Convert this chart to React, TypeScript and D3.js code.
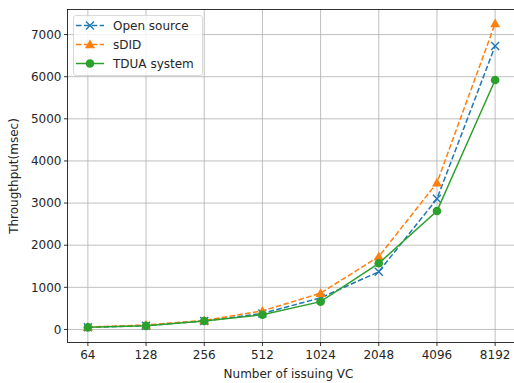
import React from "react";
import * as d3 from "d3";

const categories = ["64", "128", "256", "512", "1024", "2048", "4096", "8192"];
const openSource = [50, 90, 200, 380, 750, 1370, 3100, 6730];
const sDID = [60, 105, 215, 440, 860, 1730, 3480, 7260];
const tdua = [50, 85, 200, 350, 660, 1570, 2810, 5920];
const yTicks = [0, 1000, 2000, 3000, 4000, 5000, 6000, 7000];

const series = [
  { name: "Open source", values: openSource, color: "#1f77b4", dash: "5.5,2.4", marker: "x" },
  { name: "sDID", values: sDID, color: "#ff7f0e", dash: "5.5,2.4", marker: "^" },
  { name: "TDUA system", values: tdua, color: "#2ca02c", dash: "", marker: "o" },
];

const W = 514, H = 383;
const L = 67.5, R = 515.5, T = 9.5, B = 342.5;
const font = "DejaVu Sans, sans-serif";
const FS = 12;

function Marker({ type, x, y, color }: { type: string; x: number; y: number; color: string }) {
  if (type === "x") {
    const s = 4;
    return (
      <path d={`M${x - s},${y - s}L${x + s},${y + s}M${x - s},${y + s}L${x + s},${y - s}`} stroke={color} strokeWidth={1.4} fill="none" />
    );
  }
  if (type === "^") {
    const s = 5;
    return <path d={`M${x},${y - s}L${x + s},${y + s * 0.75}L${x - s},${y + s * 0.75}Z`} fill={color} />;
  }
  return <circle cx={x} cy={y} r={4.3} fill={color} />;
}

export default function App() {
  const x = d3.scaleLinear().domain([-0.35, 7.35]).range([L, R]);
  const y = d3.scaleLinear().domain([-310, 7595]).range([B, T]);
  const line = d3.line<number>().x((_, i) => x(i)).y((d) => y(d));

  return (
    <svg width={W} height={H} style={{ position: "absolute", left: 0, top: 0, background: "#fff" }} fontFamily={font}>
      <rect width={W} height={H} fill="#fff" />
      {categories.map((c, i) => (
        <line key={"gx" + c} x1={x(i)} x2={x(i)} y1={T} y2={B} stroke="#b0b0b0" strokeWidth={0.8} />
      ))}
      {yTicks.map((t) => (
        <line key={"gy" + t} x1={L} x2={R} y1={y(t)} y2={y(t)} stroke="#b0b0b0" strokeWidth={0.8} />
      ))}
      {series.map((s) => (
        <g key={s.name}>
          <path d={line(s.values) || ""} fill="none" stroke={s.color} strokeWidth={1.5} strokeDasharray={s.dash} />
          {s.values.map((v, i) => (
            <Marker key={i} type={s.marker} x={x(i)} y={y(v)} color={s.color} />
          ))}
        </g>
      ))}
      <rect x={L} y={T} width={R - L} height={B - T} fill="none" stroke="#000" strokeWidth={0.8} />
      {categories.map((c, i) => (
        <g key={"xt" + c}>
          <line x1={x(i)} x2={x(i)} y1={B} y2={B + 3.5} stroke="#000" strokeWidth={0.8} />
          <text x={x(i)} y={B + 16.5} textAnchor="middle" fontSize={FS} fill="#262626">{c}</text>
        </g>
      ))}
      {yTicks.map((t) => (
        <g key={"yt" + t}>
          <line x1={L - 3.5} x2={L} y1={y(t)} y2={y(t)} stroke="#000" strokeWidth={0.8} />
          <text x={L - 6} y={y(t)} dy="0.35em" textAnchor="end" fontSize={FS} fill="#262626">{t}</text>
        </g>
      ))}
      <text x={(L + R) / 2 - 3} y={378} textAnchor="middle" fontSize={FS} fill="#262626">Number of issuing VC</text>
      <text transform={`translate(18,${(T + B) / 2}) rotate(-90)`} textAnchor="middle" fontSize={FS} fill="#262626">Througthput(msec)</text>
      <g>
        <rect x={73.5} y={15.5} width={129} height={60} rx={2.5} fill="#fff" fillOpacity={0.8} stroke="#d0d0d0" strokeWidth={0.8} />
        {series.map((s, i) => {
          const ly = 25.5 + i * 19;
          return (
            <g key={"lg" + s.name}>
              <line x1={76} x2={104} y1={ly} y2={ly} stroke={s.color} strokeWidth={1.5} strokeDasharray={s.dash} />
              <Marker type={s.marker} x={90} y={ly} color={s.color} />
              <text x={113} y={ly} dy="0.35em" fontSize={FS} fill="#262626">{s.name}</text>
            </g>
          );
        })}
      </g>
    </svg>
  );
}
